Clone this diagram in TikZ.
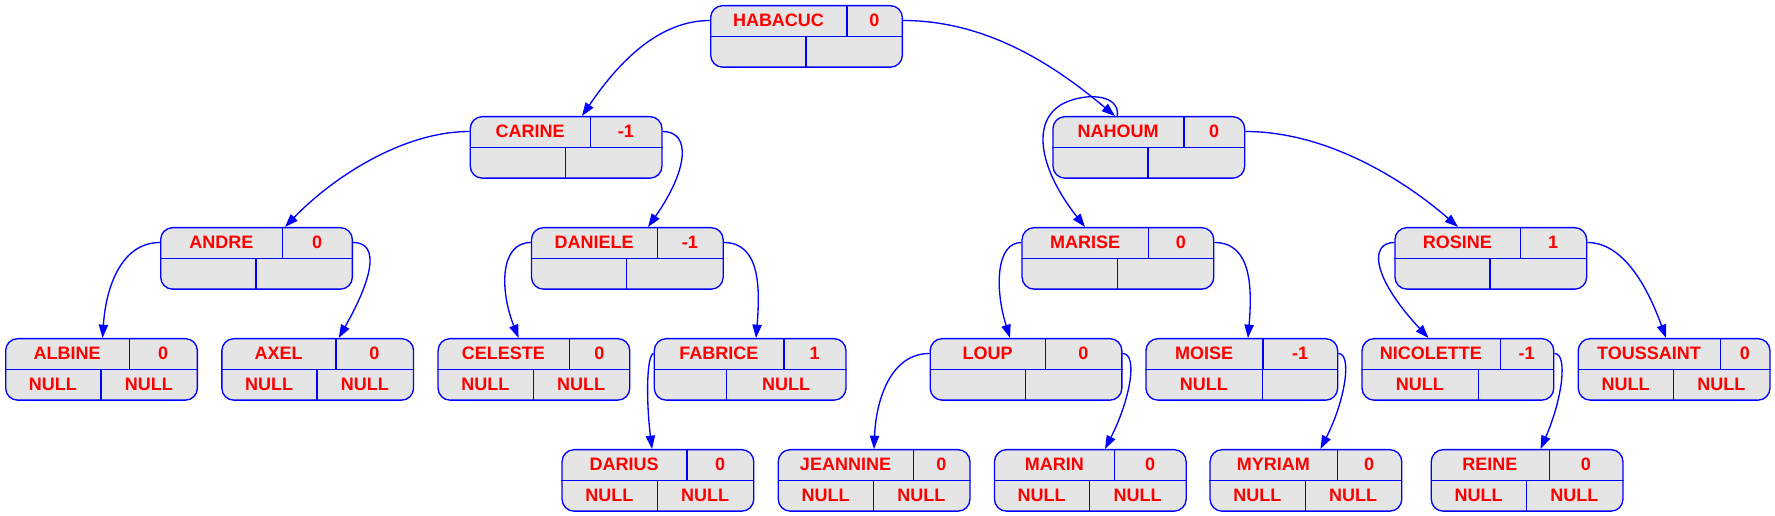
\documentclass[tikz,border=0pt]{standalone}
\usepackage{fontspec}
\setmainfont{Liberation Sans}
\usetikzlibrary{arrows.meta,calc}
\definecolor{recfill}{HTML}{E5E5E5}
\definecolor{recblue}{HTML}{0000FF}
\definecolor{recred}{HTML}{FF0000}
\tikzset{
  recbox/.style={draw=recblue, fill=recfill, line width=1pt, rounded corners=9pt, inner sep=0pt,
    minimum width=143.775pt, minimum height=46.125pt, anchor=north west},
  divline/.style={draw=recblue, line width=1pt},
  lbl/.style={text=recred, font=\fontsize{13.5pt}{16pt}\selectfont\bfseries, inner sep=0pt},
  link/.style={draw=recblue, line width=1pt, -{Triangle[length=10pt,width=7pt]}}
}
% #1 id, #2 x, #3 y, #4 name, #5 number, #6 top divider offset, #7 bottom divider offset, #8 bottom-left, #9 bottom-right
\newcommand\recnode[9]{%
  \node[recbox] (#1) at (#2,#3) {};
  \draw[divline] (#1.west) -- (#1.east);
  \draw[divline] ($(#1.north west)+(#6,0)$) -- ($(#1.west)+(#6,0)$);
  \draw[divline] ($(#1.west)+(#7,0)$) -- ($(#1.south west)+(#7,0)$);
  \pgfmathsetmacro\recta{#6/2}%
  \pgfmathsetmacro\rectb{(#6+191.7)/2}%
  \pgfmathsetmacro\rectc{#7/2}%
  \pgfmathsetmacro\rectd{(#7+191.7)/2}%
  \node[lbl] (#1-name) at ($(#1.north west)+(\recta,15.5)$) {#4};
  \node[lbl] (#1-bal) at ($(#1.north west)+(\rectb,15.5)$) {#5};
  \node[lbl] (#1-gl) at ($(#1.north west)+(\rectc,46)$) {#8};
  \node[lbl] (#1-gr) at ($(#1.north west)+(\rectd,46)$) {#9};
}
\begin{document}
\begin{tikzpicture}[x=0.75pt,y=-0.75pt]
\useasboundingbox (0,0) rectangle (1775,516);
% row 0
\recnode{HABACUC}{710}{5}{HABACUC}{0}{137}{95.85}{}{}
% row 1
\recnode{CARINE}{469.6}{116}{CARINE}{-1}{120.9}{95.85}{}{}
\recnode{NAHOUM}{1052.3}{116}{NAHOUM}{0}{131.7}{95.85}{}{}
% row 2
\recnode{ANDRE}{160}{227}{ANDRE}{0}{122.8}{95.85}{}{}
\recnode{DANIELE}{530.8}{227}{DANIELE}{-1}{126.6}{95.85}{}{}
\recnode{MARISE}{1021.4}{227}{MARISE}{0}{127.4}{95.85}{}{}
\recnode{ROSINE}{1394.3}{227}{ROSINE}{1}{125.9}{95.85}{}{}
% row 3
\recnode{ALBINE}{5}{338}{ALBINE}{0}{124.4}{95.85}{NULL}{NULL}
\recnode{AXEL}{221.2}{338}{AXEL}{0}{114.8}{95.85}{NULL}{NULL}
\recnode{CELESTE}{437.4}{338}{CELESTE}{0}{132.1}{95.85}{NULL}{NULL}
\recnode{FABRICE}{653.6}{338}{FABRICE}{1}{130.5}{73.1}{}{NULL}
\recnode{LOUP}{929.5}{338}{LOUP}{0}{116}{95.85}{}{}
\recnode{MOISE}{1145.3}{338}{MOISE}{-1}{117.7}{117.3}{NULL}{}
\recnode{NICOLETTE}{1361.4}{338}{NICOLETTE}{-1}{138.9}{117.1}{NULL}{}
\recnode{TOUSSAINT}{1577.6}{338}{TOUSSAINT}{0}{142.8}{95.85}{NULL}{NULL}
% row 4
\recnode{DARIUS}{561.4}{449}{DARIUS}{0}{125.5}{95.85}{NULL}{NULL}
\recnode{JEANNINE}{777.6}{449}{JEANNINE}{0}{135.8}{95.85}{NULL}{NULL}
\recnode{MARIN}{993.8}{449}{MARIN}{0}{120.9}{95.85}{NULL}{NULL}
\recnode{MYRIAM}{1209.4}{449}{MYRIAM}{0}{127.9}{95.85}{NULL}{NULL}
\recnode{REINE}{1430.6}{449}{REINE}{0}{118.7}{95.85}{NULL}{NULL}
% edges
\draw[link] ($(HABACUC.north west)+(0,15.5)$) .. controls +(-50,0) and +(38,-56) .. ($(CARINE.north west)+(112.4,0)$);
\draw[link] ($(HABACUC.north east)+(0,15.5)$) .. controls +(88,0) and +(-55,-46) .. ($(NAHOUM.north west)+(62.7,0)$);
\draw[link] ($(NAHOUM.north west)+(65,0)$) .. controls +(3,-22) and +(23,-12) .. ($(NAHOUM.north west)+(10,-12)$)
   .. controls +(-32,18) and +(-45,-57) .. ($(MARISE.north west)+(63.6,0)$);
\draw[link] ($(NAHOUM.north east)+(0,15.5)$) .. controls +(86,0) and +(-48,-42) .. ($(ROSINE.north west)+(63.7,0)$);
\draw[link] ($(CARINE.north west)+(0,15.5)$) .. controls +(-69,0) and +(45,-47) .. ($(ANDRE.north west)+(125,0)$);
\draw[link] ($(CARINE.north east)+(0,15.5)$) .. controls +(29,0) and +(40,-57) .. ($(DANIELE.north west)+(117.2,0)$);
\draw[link] ($(ANDRE.north west)+(0,15.5)$) .. controls +(-40,0) and +(3,-48) .. ($(ALBINE.north west)+(97.6,0)$);
\draw[link] ($(ANDRE.north east)+(0,15.5)$) .. controls +(28,0) and +(33,-58) .. ($(AXEL.north west)+(117.5,0)$);
\draw[link] ($(DANIELE.north west)+(0,15.5)$) .. controls +(-31,0) and +(-19,-48) .. ($(CELESTE.north west)+(81.2,0)$);
\draw[link] ($(DANIELE.north east)+(0,15.5)$) .. controls +(37,0) and +(4,-48) .. ($(FABRICE.north west)+(102.4,0)$);
\draw[link] ($(FABRICE.north west)+(0,15.5)$) .. controls +(-7,1) and +(-6,-49) .. ($(DARIUS.north west)+(90.6,0)$);
\draw[link] ($(MARISE.north west)+(0,15.5)$) .. controls +(-26,0) and +(-15,-48) .. ($(LOUP.north west)+(80.5,0)$);
\draw[link] ($(MARISE.north east)+(0,15.5)$) .. controls +(38,0) and +(4,-48) .. ($(MOISE.north west)+(102.7,0)$);
\draw[link] ($(ROSINE.north west)+(0,15.5)$) .. controls +(-24,0) and +(-58.5,-63) .. ($(NICOLETTE.north west)+(67.1,0)$);
\draw[link] ($(ROSINE.north east)+(0,15.5)$) .. controls +(33,0) and +(-21,-58) .. ($(TOUSSAINT.north west)+(88.4,0)$);
\draw[link] ($(LOUP.north west)+(0,15.5)$) .. controls +(-39,0) and +(2,-49) .. ($(JEANNINE.north west)+(96.4,0)$);
\draw[link] ($(LOUP.north east)+(0,15.5)$) .. controls +(16,0) and +(25,-49) .. ($(MARIN.north west)+(111.2,0)$);
\draw[link] ($(MOISE.north east)+(0,15.5)$) .. controls +(14,0) and +(25,-49) .. ($(MYRIAM.north west)+(111,0)$);
\draw[link] ($(NICOLETTE.north east)+(0,15.5)$) .. controls +(14,0) and +(21.5,-49) .. ($(REINE.north west)+(109.9,0)$);
\end{tikzpicture}
\end{document}
